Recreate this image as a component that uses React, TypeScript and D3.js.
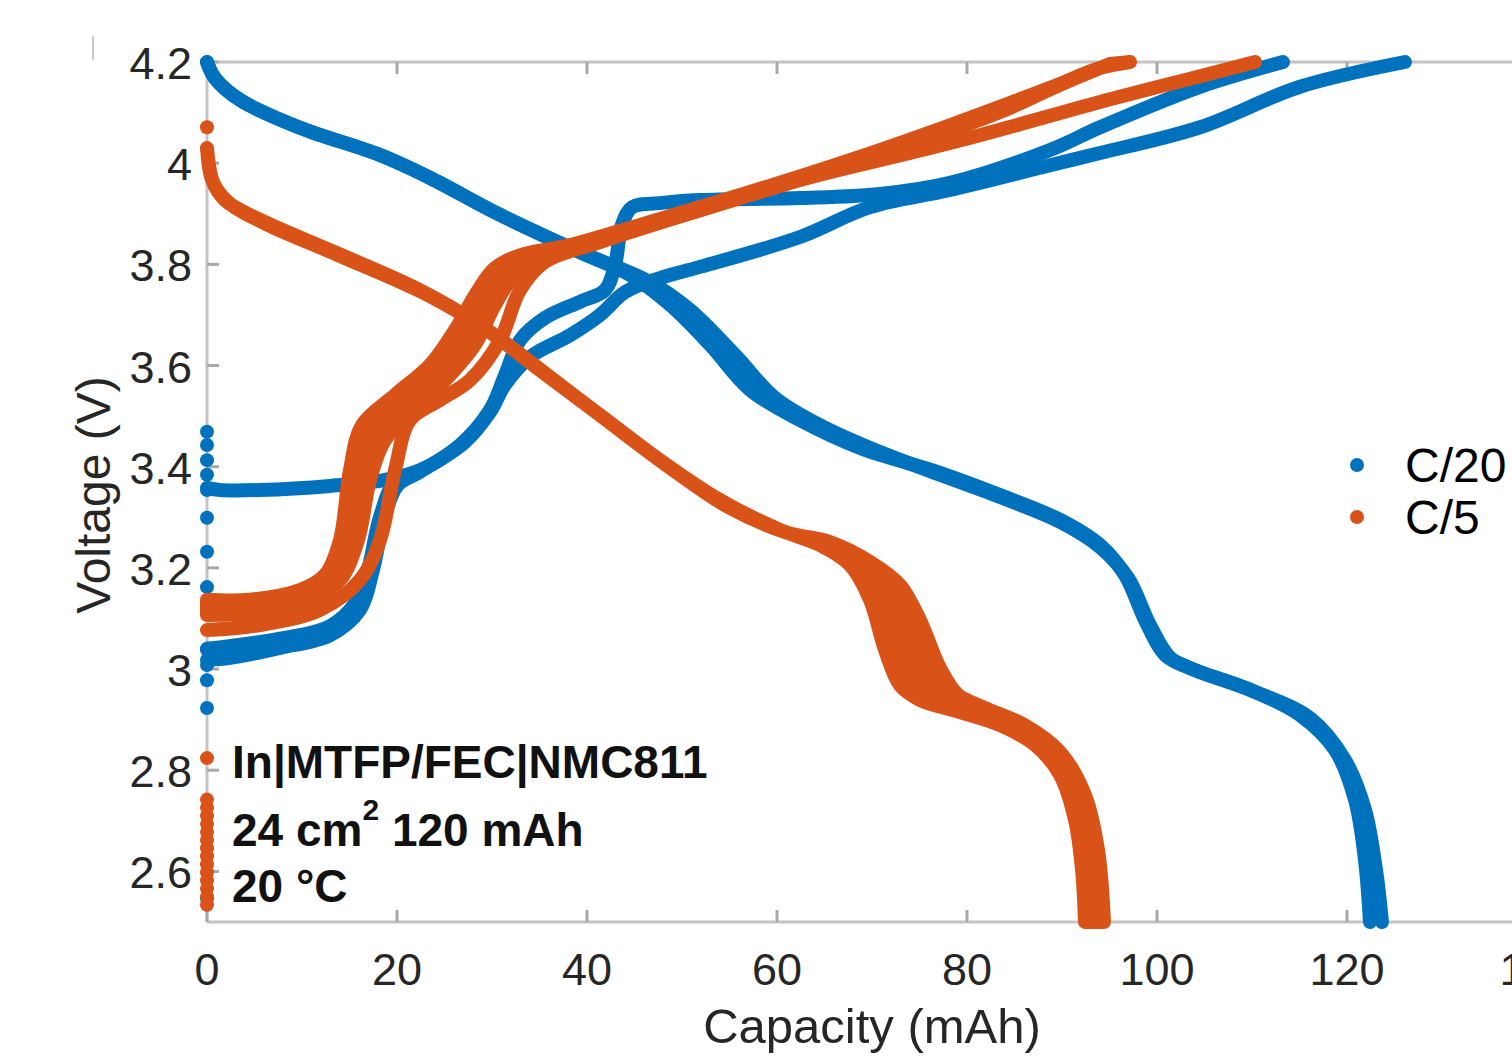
import React from "react";
import * as d3 from "d3";

const BLUE = "#0072BD";
const ORANGE = "#D95319";

// C/20 discharge (two cycles), [capacity mAh, voltage V]
const c20Discharge1 = [
  [0, 4.2], [0.84, 4.168], [3.47, 4.125], [9.79, 4.07], [18.21, 4.016], [23.47, 3.971],
  [30.84, 3.898], [39.26, 3.824], [44.53, 3.779], [48.74, 3.72], [52.95, 3.641], [57.16, 3.552],
  [62.42, 3.492], [68.74, 3.437], [77.16, 3.388], [83.47, 3.344], [89.79, 3.295], [94.0, 3.245],
  [96.63, 3.186], [98.74, 3.097], [100.84, 3.028], [103.47, 3.002], [109.79, 2.959], [115.05, 2.909],
  [118.74, 2.84], [120.84, 2.742], [121.89, 2.623], [122.42, 2.5],
];
const c20Discharge2 = [
  [0, 4.2], [0.84, 4.168], [3.47, 4.125], [9.79, 4.07], [18.21, 4.016], [23.47, 3.971],
  [30.84, 3.898], [39.26, 3.824], [46.63, 3.765], [50.84, 3.71], [55.58, 3.621], [59.79, 3.536],
  [64.53, 3.482], [69.79, 3.437], [77.16, 3.384], [83.47, 3.34], [89.79, 3.291], [94.0, 3.241],
  [96.95, 3.18], [99.26, 3.087], [101.4, 3.022], [104.0, 2.998], [110.3, 2.955], [116.1, 2.903],
  [119.79, 2.82], [121.89, 2.722], [123.05, 2.603], [123.68, 2.5],
];

// C/20 charge
const c20Charge1 = [
  [0, 3.358], [1.37, 3.354], [5.58, 3.354], [12.95, 3.362], [18.74, 3.374], [22.42, 3.393],
  [26.63, 3.443], [29.79, 3.512], [31.37, 3.581], [32.95, 3.65], [35.58, 3.694], [39.26, 3.726],
  [41.89, 3.749], [42.95, 3.799], [43.68, 3.878], [44.74, 3.913], [47.68, 3.921], [51.89, 3.927],
  [62.42, 3.931], [70.84, 3.939], [78.21, 3.961], [88.74, 4.026], [94.0, 4.071], [104.53, 4.151],
  [113.26, 4.2],
];
const c20Charge2 = [
  [0, 3.018], [2.42, 3.022], [7.68, 3.042], [12.95, 3.067], [16.1, 3.117], [17.47, 3.196],
  [18.74, 3.305], [20.1, 3.364], [22.42, 3.39], [27.16, 3.449], [29.79, 3.508], [31.37, 3.562],
  [34.0, 3.617], [38.21, 3.66], [41.37, 3.7], [44.0, 3.745], [47.68, 3.773], [51.89, 3.795],
  [62.42, 3.854], [69.79, 3.913], [78.21, 3.947], [88.74, 3.996], [94.0, 4.02], [104.53, 4.071],
  [115.05, 4.151], [126.1, 4.2],
];
const c20Charge3 = [
  [0, 3.04], [7.68, 3.06], [12.95, 3.085], [15.6, 3.13], [17.0, 3.2], [18.2, 3.3],
  [19.8, 3.37], [22.42, 3.39],
];
const c20Rest = [3.469, 3.443, 3.413, 3.384, 3.354, 3.299, 3.232, 3.162, 3.038, 3.008, 2.978, 2.923, 2.547];

// C/5 discharge (band between first and last cycle)
const c5Discharge1 = [
  [0, 4.03], [0.53, 3.967], [1.89, 3.927], [5.58, 3.888], [12.95, 3.828], [22.42, 3.749],
  [28.74, 3.68], [35.05, 3.591], [41.37, 3.502], [47.68, 3.413], [54.0, 3.334], [60.32, 3.275],
  [64.53, 3.245], [67.68, 3.206], [69.79, 3.137], [71.37, 3.038], [72.95, 2.968], [75.05, 2.939],
  [79.26, 2.915], [83.47, 2.889], [87.16, 2.85], [89.79, 2.791], [91.37, 2.702], [92.11, 2.603],
  [92.42, 2.5],
];
const c5Discharge2 = [
  [0, 4.03], [0.7, 3.96], [2.4, 3.92], [6.2, 3.88], [13.6, 3.82], [23.2, 3.74],
  [29.5, 3.67], [35.9, 3.58], [42.2, 3.49], [48.6, 3.4], [54.9, 3.32], [61.0, 3.27],
  [65.58, 3.251], [69.79, 3.212], [72.95, 3.166], [75.05, 3.097], [77.16, 3.002], [79.05, 2.949],
  [81.9, 2.923], [86.1, 2.889], [89.79, 2.836], [92.42, 2.751], [93.79, 2.642], [94.42, 2.5],
];

// C/5 charge
const c5Charge1 = [
  [0, 3.137], [4.53, 3.137], [9.79, 3.156], [12.42, 3.186], [14.0, 3.255], [15.05, 3.393],
  [16.32, 3.482], [19.79, 3.542], [23.47, 3.601], [26.1, 3.67], [28.21, 3.739], [30.32, 3.793],
  [32.95, 3.818], [38.21, 3.838], [46.63, 3.884], [57.16, 3.943], [67.68, 4.006], [78.21, 4.075],
  [88.74, 4.149], [94.0, 4.188], [97.16, 4.2],
];
const c5Charge2 = [
  [0, 3.107], [5.58, 3.113], [10.84, 3.137], [14.0, 3.176], [15.89, 3.255], [17.16, 3.374],
  [18.74, 3.453], [22.42, 3.522], [25.58, 3.581], [28.21, 3.641], [30.32, 3.72], [32.42, 3.779],
  [35.58, 3.813], [41.37, 3.848], [51.89, 3.907], [62.42, 3.967], [72.95, 4.03], [83.47, 4.101],
  [89.79, 4.155], [95.05, 4.196],
];
const c5Charge3 = [
  [0, 3.077], [5.58, 3.087], [11.89, 3.117], [16.1, 3.176], [18.21, 3.255], [19.79, 3.393],
  [21.37, 3.492], [24.53, 3.532], [27.68, 3.571], [30.84, 3.65], [32.95, 3.749], [35.58, 3.805],
  [41.37, 3.844], [51.89, 3.907], [62.42, 3.967], [76.11, 4.03], [83.47, 4.066], [94.0, 4.121],
  [104.53, 4.172], [110.32, 4.2],
];
const c5Rest = [4.071, 2.824, 2.742, 2.726, 2.71, 2.694, 2.678, 2.662, 2.646, 2.63, 2.614, 2.598, 2.582, 2.566, 2.55, 2.534];

const xTicks = [0, 20, 40, 60, 80, 100, 120, 140];
const yTicks = [2.6, 2.8, 3, 3.2, 3.4, 3.6, 3.8, 4, 4.2];

const FONT = "'Liberation Sans', Arial, Helvetica, sans-serif";

const App = () => {
  const x = d3.scaleLinear().domain([0, 140]).range([207, 1537]);
  const y = d3.scaleLinear().domain([2.5, 4.2]).range([922, 62]);
  const line = d3
    .line<number[]>()
    .x((d) => x(d[0]))
    .y((d) => y(d[1]))
    .curve(d3.curveCatmullRom.alpha(0.5));

  // filled band between two cycles of the same rate
  const band = (a: number[][], b: number[][]) =>
    (line(a) || "") + (line([...b].reverse()) || "").replace(/^M/, "L") + "Z";

  const blueCurves = [c20Discharge1, c20Discharge2, c20Charge1, c20Charge2, c20Charge3];
  const orangeCurves = [c5Charge3];
  const orangeBands = [
    [c5Discharge1, c5Discharge2],
    [c5Charge1, c5Charge2],
  ];
  const sw = 14;

  return (
    <svg
      width={1512}
      height={1056}
      style={{ position: "absolute", left: 0, top: 0, background: "#fff" }}
    >
      {/* axes box */}
      <line x1={x(0)} x2={x(140)} y1={y(4.2)} y2={y(4.2)} stroke="#c4c4c4" strokeWidth={3} />
      <line x1={x(0)} x2={x(140)} y1={y(2.5)} y2={y(2.5)} stroke="#c4c4c4" strokeWidth={3} />
      <line x1={x(0)} x2={x(0)} y1={y(4.2)} y2={y(2.5)} stroke="#c4c4c4" strokeWidth={3} />
      <line x1={93} x2={93} y1={36} y2={60} stroke="#c8c8c8" strokeWidth={2} />
      {xTicks.map((t) => (
        <g key={"x" + t}>
          <line x1={x(t)} x2={x(t)} y1={y(2.5)} y2={y(2.5) - 12} stroke="#a8a8a8" strokeWidth={3} />
          <line x1={x(t)} x2={x(t)} y1={y(4.2)} y2={y(4.2) + 12} stroke="#a8a8a8" strokeWidth={3} />
          <text x={x(t)} y={985} textAnchor="middle" fontSize={45} fill="#262626" fontFamily={FONT}>
            {t}
          </text>
        </g>
      ))}
      {yTicks.map((t) => (
        <g key={"y" + t}>
          <line x1={x(0)} x2={x(0) + 12} y1={y(t)} y2={y(t)} stroke="#a8a8a8" strokeWidth={3} />
          <text x={192} y={y(t) + 17} textAnchor="end" fontSize={45} fill="#262626" fontFamily={FONT}>
            {String(t)}
          </text>
        </g>
      ))}
      <text x={872} y={1043} textAnchor="middle" fontSize={49} fill="#262626" fontFamily={FONT}>
        Capacity (mAh)
      </text>
      <text
        transform="translate(110,495) rotate(-90)"
        textAnchor="middle"
        fontSize={48}
        fill="#262626"
        fontFamily={FONT}
      >
        Voltage (V)
      </text>

      {/* data */}
      {blueCurves.map((c, i) => (
        <path key={"b" + i} d={line(c) || ""} fill="none" stroke={BLUE} strokeWidth={sw}
          strokeLinecap="round" strokeLinejoin="round" />
      ))}
      {c20Rest.map((v, i) => (
        <circle key={"br" + i} cx={x(0)} cy={y(v)} r={7} fill={BLUE} />
      ))}
      {orangeBands.map(([a, b], i) => (
        <path key={"ob" + i} d={band(a, b)} fill={ORANGE} stroke={ORANGE} strokeWidth={sw}
          strokeLinecap="round" strokeLinejoin="round" />
      ))}
      {orangeCurves.map((c, i) => (
        <path key={"o" + i} d={line(c) || ""} fill="none" stroke={ORANGE} strokeWidth={sw}
          strokeLinecap="round" strokeLinejoin="round" />
      ))}
      {c5Rest.map((v, i) => (
        <circle key={"or" + i} cx={x(0)} cy={y(v)} r={7} fill={ORANGE} />
      ))}

      {/* annotation */}
      <g fontFamily={FONT} fontWeight="bold" fill="#111" fontSize={46}>
        <text x={232} y={778}>In|MTFP/FEC|NMC811</text>
        <text x={232} y={846}>
          24 cm
          <tspan fontSize={30} dy={-26}>2</tspan>
          <tspan dy={26}> 120 mAh</tspan>
        </text>
        <text x={232} y={902}>20 °C</text>
      </g>

      {/* legend */}
      <circle cx={1357} cy={465} r={7} fill={BLUE} />
      <circle cx={1357} cy={517} r={7} fill={ORANGE} />
      <text x={1405} y={482} fontSize={48} fill="#000" fontFamily={FONT}>C/20</text>
      <text x={1405} y={534} fontSize={48} fill="#000" fontFamily={FONT}>C/5</text>
    </svg>
  );
};

export default App;
